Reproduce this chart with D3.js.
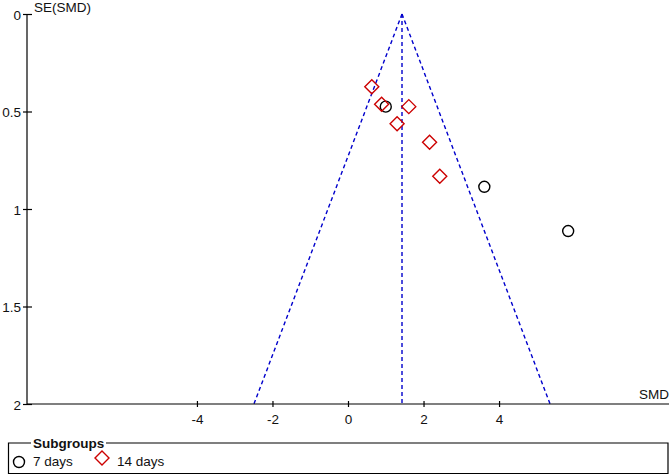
<!DOCTYPE html>
<html><head><meta charset="utf-8">
<script src="https://cdn.jsdelivr.net/npm/d3@7"></script>
<style>body{margin:0;background:#fff}svg{display:block;font-family:Arial,"Liberation Sans",sans-serif}</style>
</head><body><svg id="c" width="671" height="476"></svg>
<script>
const xTicks = [-4, -2, 0, 2, 4];
const yTicks = [0, 0.5, 1, 1.5, 2];
const yTickLabels = ["0", "0.5", "1", "1.5", "2"];
const pooledSMD = 1.43;
const days7SMD = [1.00, 3.61, 5.83];
const days7SE = [0.475, 0.886, 1.113];
const days14SMD = [0.63, 0.89, 1.61, 1.30, 2.16, 2.43];
const days14SE = [0.373, 0.463, 0.475, 0.563, 0.658, 0.832];
const legendLabels = ["7 days", "14 days"];

const svg = d3.select("#c");
const x = d3.scaleLinear().domain([-8.5, 8.5]).range([27, 669]);
const y = d3.scaleLinear().domain([0, 2]).range([14, 404]);
const FS = 13.5;

// funnel
const blue = "#0000cc";
const fg = svg.append("g").attr("fill", "none").attr("stroke", blue)
  .attr("stroke-width", 1.4).attr("stroke-dasharray", "4,3");
fg.append("line").attr("x1", x(pooledSMD)).attr("y1", y(0)).attr("x2", x(pooledSMD - 1.96 * 2)).attr("y2", y(2));
fg.append("line").attr("x1", x(pooledSMD)).attr("y1", y(0)).attr("x2", x(pooledSMD + 1.96 * 2)).attr("y2", y(2));
fg.append("line").attr("x1", x(pooledSMD)).attr("y1", y(0)).attr("x2", x(pooledSMD)).attr("y2", y(2));

// axes
const xAxis = svg.append("g").attr("transform", `translate(0,${y(2)})`)
  .call(d3.axisBottom(x).tickValues(xTicks).tickSize(3).tickFormat(d => d));
xAxis.select(".domain").attr("d", `M${x(-8.5)},0H${x(8.5)}`).attr("stroke", "#000").attr("stroke-width", 1.2);
xAxis.selectAll(".tick line").attr("y1", -3).attr("y2", 3).attr("stroke", "#000").attr("stroke-width", 1.2);
xAxis.selectAll(".tick text").attr("y", 10).attr("font-size", FS).attr("font-family", "Arial,'Liberation Sans',sans-serif").attr("fill", "#111");

const yAxis = svg.append("g").attr("transform", `translate(${x(-8.5)},0)`)
  .call(d3.axisLeft(y).tickValues(yTicks).tickSize(4).tickFormat((d, i) => yTickLabels[i]));
yAxis.select(".domain").attr("d", `M0,${y(0)}V${y(2)}`).attr("stroke", "#000").attr("stroke-width", 1.2);
yAxis.selectAll(".tick line").attr("x1", -4).attr("x2", 5).attr("stroke", "#000").attr("stroke-width", 1.2);
yAxis.selectAll(".tick text").attr("x", -6).attr("dy", "0.38em").attr("font-size", FS).attr("font-family", "Arial,'Liberation Sans',sans-serif").attr("fill", "#111");

svg.append("text").attr("x", 34).attr("y", 12).attr("font-size", FS).attr("fill", "#111").text("SE(SMD)");
svg.append("text").attr("x", 669).attr("y", 399).attr("text-anchor", "end").attr("font-size", FS).attr("fill", "#111").text("SMD");

// points
svg.append("g").selectAll("circle").data(days7SMD).join("circle")
  .attr("cx", d => x(d)).attr("cy", (d, i) => y(days7SE[i])).attr("r", 5.5)
  .attr("fill", "none").attr("stroke", "#000").attr("stroke-width", 1.4);
const diamond = (cx, cy, s) => `M${cx},${cy - s}L${cx + s},${cy}L${cx},${cy + s}L${cx - s},${cy}Z`;
svg.append("g").selectAll("path").data(days14SMD).join("path")
  .attr("d", (d, i) => diamond(x(d), y(days14SE[i]), 7))
  .attr("fill", "none").attr("stroke", "#cc0000").attr("stroke-width", 1.4);

// legend
const lg = svg.append("g");
lg.append("path").attr("d", "M31,443H8.5V473.5H668V443H106").attr("fill", "none").attr("stroke", "#000").attr("stroke-width", 1.2);
lg.append("text").attr("x", 33).attr("y", 448).attr("font-size", FS).attr("font-weight", "bold").attr("fill", "#111").text("Subgroups");
lg.append("circle").attr("cx", 19).attr("cy", 462).attr("r", 5.5).attr("fill", "none").attr("stroke", "#000").attr("stroke-width", 1.4);
lg.append("text").attr("x", 33).attr("y", 466).attr("font-size", FS).attr("fill", "#111").text(legendLabels[0]);
lg.append("path").attr("d", diamond(102, 458, 7)).attr("fill", "none").attr("stroke", "#cc0000").attr("stroke-width", 1.4);
lg.append("text").attr("x", 117).attr("y", 466).attr("font-size", FS).attr("fill", "#111").text(legendLabels[1]);
</script></body></html>
